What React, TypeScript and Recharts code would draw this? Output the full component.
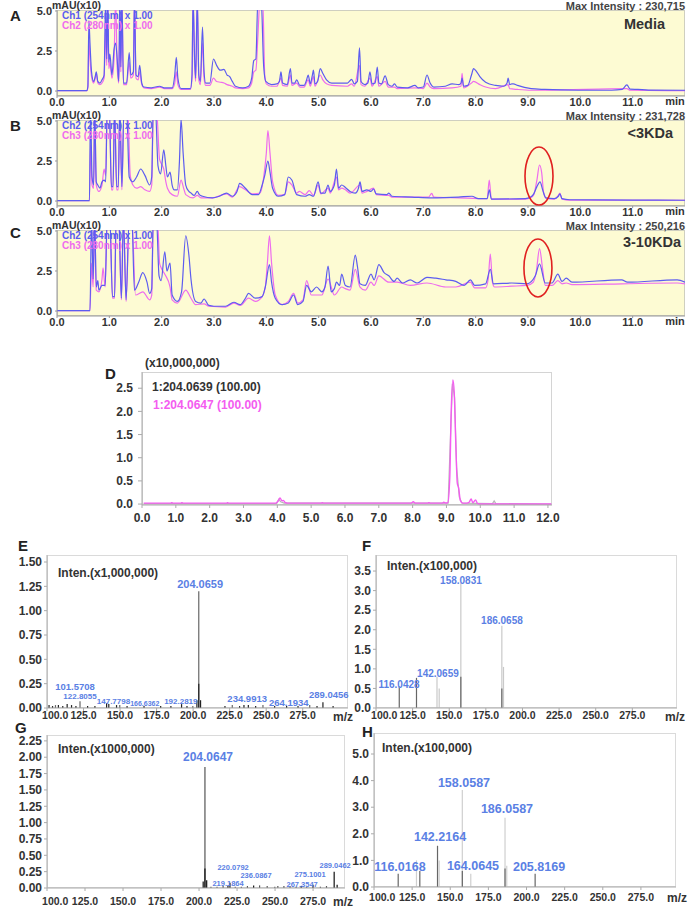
import { LineChart, Line, XAxis, YAxis, ReferenceDot, BarChart, Bar } from 'recharts';

type Pair = [number, number];
// [m/z, tall (light) line, base (dark) line]
type Peak = [number, number | null, number | null];
type PeakLabel = { text: string; mz: number; v: number; size: number };

const FONT = '"Liberation Sans", Arial, Helvetica, sans-serif';
const YELLOW = '#fdfbd3';
const BLUE = '#5c5cf0';
const PINK = '#ee6cee';
const LABEL_BLUE = '#5a80e4';
const D_PINK = '#f45cf0';

// ---- chromatograms A-C: [time (min), mAU x10] ----
const minuteTicks = [0, 1, 2, 3, 4, 5, 6, 7, 8, 9, 10, 11];
const mauTicks = [0, 2.5, 5];

const mediaCh1: Pair[] = [
  [0, 0.02], [0.57, 0.02], [0.59, 0.3], [0.61, 4.4], [0.63, 3.0], [0.66, 1.2], [0.7, 0.6], [0.73, 0.9], [0.75, 1.2],
  [0.78, 0.6], [0.82, 0.5], [0.86, 0.7], [0.9, 1.0], [0.93, 5.8], [0.95, 2.0], [0.97, 5.8], [0.99, 1.8], [1.01, 2.3],
  [1.05, 1.0], [1.09, 2.6], [1.12, 3.0], [1.15, 2.0], [1.18, 0.6], [1.2, 5.8], [1.22, 1.5], [1.24, 5.8], [1.27, 0.5],
  [1.33, 0.5], [1.38, 2.4], [1.41, 1.0], [1.46, 1.2], [1.48, 5.8], [1.51, 1.0], [1.55, 0.9], [1.58, 1.6], [1.62, 0.5],
  [1.66, 0.25], [1.8, 0.2], [1.96, 0.3], [2.05, 0.2], [2.2, 0.2], [2.25, 1.0], [2.28, 2.1], [2.31, 0.8], [2.37, 0.15],
  [2.55, 0.15], [2.58, 1.0], [2.6, 5.8], [2.63, 2.0], [2.65, 0.8], [2.68, 5.8], [2.71, 1.0], [2.74, 0.6], [2.78, 4.0],
  [2.81, 1.2], [2.84, 0.5], [2.92, 0.5], [2.99, 2.0], [3.05, 1.6], [3.12, 1.3], [3.19, 1.35], [3.25, 1.0], [3.3, 0.9],
  [3.35, 0.6], [3.41, 0.3], [3.55, 0.2], [3.66, 0.3], [3.72, 0.8], [3.76, 1.9], [3.8, 2.0], [3.84, 5.8], [3.9, 5.8],
  [3.95, 1.5], [3.99, 0.6], [4.1, 0.4], [4.2, 0.45], [4.25, 0.6], [4.28, 1.2], [4.31, 0.5], [4.4, 0.4], [4.46, 1.4],
  [4.49, 0.5], [4.54, 0.5], [4.58, 0.7], [4.64, 0.35], [4.72, 0.35], [4.77, 0.7], [4.8, 1.0], [4.84, 0.45], [4.88, 1.0],
  [4.9, 1.3], [4.93, 0.45], [4.98, 0.6], [5.03, 1.4], [5.08, 1.1], [5.15, 0.7], [5.25, 0.5], [5.45, 0.5], [5.55, 0.5],
  [5.63, 0.73], [5.68, 0.45], [5.74, 0.6], [5.78, 2.7], [5.81, 0.6], [5.88, 0.4], [5.94, 0.5], [5.98, 1.2], [6.02, 0.45],
  [6.08, 0.5], [6.12, 1.5], [6.15, 0.5], [6.2, 0.45], [6.27, 0.95], [6.33, 0.4], [6.4, 0.3], [6.45, 0.45], [6.5, 0.25],
  [6.7, 0.2], [6.84, 0.35], [6.9, 0.2], [7.0, 0.25], [7.07, 1.0], [7.13, 0.5], [7.2, 0.25], [7.42, 0.3], [7.55, 0.45],
  [7.68, 0.4], [7.72, 0.5], [7.74, 0.8], [7.77, 0.3], [7.85, 0.35], [7.92, 1.0], [7.96, 1.4], [8.02, 1.2], [8.08, 0.9],
  [8.19, 0.55], [8.38, 0.35], [8.54, 0.3], [8.6, 0.5], [8.62, 0.8], [8.65, 0.4], [8.69, 0.45], [8.72, 0.45], [8.8, 0.35],
  [9.06, 0.15], [9.32, 0.1], [9.96, 0.05], [10.6, 0.05], [10.8, 0.1], [10.89, 0.38], [10.95, 0.12], [11.1, 0.1],
  [11.3, 0.06], [12.0, 0.05],
];
const mediaCh2: Pair[] = [
  [0, 0.02], [0.57, 0.02], [0.59, 0.2], [0.61, 3.2], [0.63, 2.0], [0.66, 0.9], [0.7, 0.5], [0.73, 0.8], [0.75, 1.1],
  [0.78, 0.5], [0.82, 0.4], [0.86, 0.5], [0.9, 0.8], [0.93, 4.0], [0.95, 1.6], [0.97, 5.8], [0.99, 1.4], [1.01, 1.8],
  [1.05, 0.8], [1.09, 2.0], [1.12, 5.8], [1.15, 1.5], [1.18, 0.5], [1.2, 4.0], [1.22, 1.2], [1.24, 5.8], [1.27, 0.4],
  [1.33, 0.4], [1.38, 1.8], [1.41, 0.8], [1.46, 1.0], [1.48, 5.8], [1.51, 0.8], [1.55, 0.7], [1.58, 1.2], [1.62, 0.4],
  [1.66, 0.2], [1.8, 0.15], [1.96, 0.25], [2.05, 0.15], [2.2, 0.15], [2.25, 0.5], [2.28, 1.2], [2.31, 0.4], [2.37, 0.1],
  [2.55, 0.1], [2.58, 0.8], [2.6, 5.8], [2.63, 1.5], [2.65, 0.6], [2.68, 5.8], [2.71, 0.7], [2.74, 0.4], [2.78, 3.0],
  [2.81, 0.8], [2.84, 0.35], [2.92, 0.35], [2.99, 0.8], [3.05, 0.6], [3.12, 0.55], [3.19, 0.5], [3.25, 0.4], [3.35, 0.3],
  [3.41, 0.2], [3.55, 0.15], [3.66, 0.2], [3.72, 0.5], [3.76, 1.2], [3.8, 1.3], [3.84, 3.5], [3.88, 5.8], [3.93, 5.8],
  [3.97, 1.0], [4.0, 0.45], [4.1, 0.3], [4.2, 0.3], [4.28, 0.8], [4.31, 0.35], [4.4, 0.3], [4.46, 1.0], [4.49, 0.35],
  [4.58, 0.5], [4.64, 0.25], [4.72, 0.25], [4.8, 0.7], [4.84, 0.3], [4.9, 0.9], [4.93, 0.3], [5.03, 1.0], [5.08, 0.7],
  [5.15, 0.45], [5.25, 0.35], [5.55, 0.3], [5.63, 0.45], [5.68, 0.3], [5.78, 1.6], [5.81, 0.4], [5.88, 0.3], [5.98, 0.8],
  [6.02, 0.3], [6.12, 0.9], [6.15, 0.3], [6.27, 0.6], [6.33, 0.25], [6.45, 0.25], [6.5, 0.15], [6.84, 0.2], [7.0, 0.15],
  [7.07, 0.5], [7.13, 0.25], [7.2, 0.15], [7.55, 0.2], [7.72, 0.3], [7.74, 1.1], [7.77, 0.2], [7.92, 0.5], [7.96, 0.6],
  [8.08, 0.4], [8.19, 0.25], [8.38, 0.15], [8.62, 0.4], [8.65, 0.15], [8.8, 0.1], [9.06, 0.05], [9.32, 0.05],
  [10.89, 0.15], [10.95, 0.05], [12.0, 0.02],
];

const lt3Ch2: Pair[] = [
  [0, 0.02], [0.62, 0.02], [0.64, 5.8], [0.67, 1.5], [0.7, 1.0], [0.72, 5.8], [0.75, 1.2], [0.78, 1.0], [0.82, 0.8],
  [0.86, 1.2], [0.9, 1.3], [0.93, 1.2], [0.96, 5.8], [1.0, 5.8], [1.04, 0.9], [1.07, 0.9], [1.1, 5.8], [1.14, 0.9],
  [1.17, 0.9], [1.2, 5.8], [1.24, 0.9], [1.28, 5.8], [1.33, 5.8], [1.38, 1.5], [1.45, 1.2], [1.52, 1.5], [1.6, 2.0],
  [1.68, 1.6], [1.77, 1.0], [1.81, 1.5], [1.84, 5.8], [1.88, 5.8], [1.93, 2.2], [1.98, 1.7], [2.04, 3.2], [2.08, 2.2],
  [2.11, 1.5], [2.16, 1.8], [2.2, 1.0], [2.24, 0.7], [2.3, 0.7], [2.34, 2.5], [2.37, 5.1], [2.41, 3.0], [2.46, 1.0],
  [2.52, 0.6], [2.56, 0.5], [2.62, 0.35], [2.68, 0.6], [2.72, 0.4], [2.78, 0.3], [2.97, 0.2], [3.1, 0.3], [3.24, 0.5],
  [3.35, 0.3], [3.44, 0.6], [3.49, 1.1], [3.6, 0.8], [3.73, 0.4], [3.85, 0.4], [3.92, 1.0], [3.97, 1.6], [4.03, 2.5],
  [4.07, 1.8], [4.12, 0.8], [4.23, 0.3], [4.35, 0.4], [4.42, 1.5], [4.49, 1.3], [4.58, 0.4], [4.74, 0.3], [4.82, 0.4],
  [4.9, 0.3], [4.99, 1.2], [5.04, 0.5], [5.12, 0.5], [5.18, 1.0], [5.22, 0.6], [5.3, 1.0], [5.34, 2.0], [5.38, 0.8],
  [5.44, 1.0], [5.51, 0.85], [5.6, 0.6], [5.7, 0.5], [5.76, 0.8], [5.79, 1.2], [5.83, 0.6], [5.92, 0.7], [6.0, 0.6],
  [6.05, 0.75], [6.1, 0.45], [6.3, 0.4], [6.34, 0.5], [6.4, 0.3], [6.78, 0.25], [7.16, 0.2], [7.67, 0.25], [7.93, 0.3],
  [8.05, 0.15], [8.22, 0.15], [8.26, 0.7], [8.3, 0.12], [8.95, 0.15], [9.05, 0.25], [9.11, 0.45], [9.17, 0.9],
  [9.23, 1.2], [9.28, 0.7], [9.34, 0.2], [9.5, 0.15], [9.58, 0.3], [9.61, 0.45], [9.65, 0.15], [9.8, 0.08], [11, 0.06],
  [12, 0.05],
];
const lt3Ch3: Pair[] = [
  [0, 0.02], [0.62, 0.02], [0.64, 3.5], [0.67, 1.0], [0.7, 0.8], [0.72, 5.8], [0.75, 1.0], [0.8, 0.6], [0.86, 1.0],
  [0.9, 2.0], [0.93, 1.6], [0.96, 5.8], [1.0, 5.8], [1.04, 0.7], [1.07, 0.7], [1.1, 5.8], [1.14, 0.7], [1.17, 0.7],
  [1.2, 5.8], [1.24, 0.7], [1.28, 5.8], [1.35, 5.8], [1.4, 1.6], [1.45, 1.0], [1.52, 0.8], [1.6, 0.9], [1.68, 0.7],
  [1.77, 0.6], [1.81, 1.0], [1.84, 5.8], [1.9, 5.8], [1.96, 2.6], [2.0, 2.3], [2.04, 2.0], [2.08, 1.2], [2.11, 0.8],
  [2.2, 0.4], [2.3, 0.3], [2.37, 1.3], [2.42, 0.8], [2.46, 0.4], [2.6, 0.2], [2.68, 0.35], [2.75, 0.2], [2.97, 0.2],
  [3.24, 0.45], [3.35, 0.25], [3.49, 0.9], [3.6, 0.7], [3.73, 0.45], [3.88, 0.5], [3.95, 1.5], [4.0, 3.0], [4.03, 4.4],
  [4.07, 3.0], [4.12, 1.2], [4.23, 0.35], [4.35, 0.4], [4.42, 1.2], [4.49, 1.0], [4.58, 0.5], [4.63, 0.6], [4.74, 0.4],
  [4.82, 0.65], [4.9, 0.35], [4.99, 1.0], [5.04, 0.45], [5.18, 0.8], [5.22, 0.5], [5.34, 1.5], [5.38, 0.7], [5.44, 0.8],
  [5.51, 0.7], [5.6, 0.5], [5.79, 1.0], [5.83, 0.5], [5.92, 0.6], [6.05, 0.8], [6.1, 0.4], [6.34, 0.35], [6.4, 0.25],
  [7.1, 0.25], [7.16, 0.48], [7.2, 0.25], [7.67, 0.2], [8.22, 0.15], [8.26, 1.3], [8.3, 0.12], [8.95, 0.12], [9.05, 0.2],
  [9.11, 0.4], [9.17, 1.3], [9.22, 2.25], [9.26, 1.8], [9.3, 0.5], [9.36, 0.15], [9.5, 0.12], [9.58, 0.35], [9.61, 0.5],
  [9.65, 0.12], [9.8, 0.06], [12, 0.05],
];

const kdaCh2: Pair[] = [
  [0, 0.02], [0.63, 0.02], [0.66, 5.8], [0.69, 2.0], [0.72, 5.8], [0.75, 1.5], [0.78, 1.9], [0.8, 1.3], [0.86, 1.6],
  [0.92, 1.6], [0.96, 5.8], [1.01, 5.8], [1.06, 0.9], [1.1, 0.9], [1.13, 5.8], [1.18, 5.8], [1.23, 0.8], [1.27, 5.8],
  [1.32, 0.7], [1.38, 5.8], [1.43, 5.8], [1.48, 1.3], [1.56, 1.8], [1.64, 2.4], [1.72, 1.8], [1.77, 1.1], [1.81, 1.4],
  [1.84, 5.8], [1.9, 5.8], [1.95, 2.2], [1.99, 1.9], [2.06, 3.7], [2.1, 2.5], [2.16, 3.0], [2.2, 1.0], [2.3, 0.6],
  [2.38, 1.2], [2.46, 4.7], [2.52, 3.5], [2.56, 2.0], [2.65, 0.6], [2.75, 0.5], [2.81, 0.75], [2.9, 0.35], [3.0, 0.3],
  [3.22, 0.3], [3.38, 0.55], [3.5, 0.4], [3.6, 0.8], [3.66, 1.1], [3.79, 0.8], [3.92, 0.9], [3.98, 1.5], [4.06, 2.9],
  [4.1, 1.8], [4.17, 0.8], [4.3, 0.4], [4.42, 0.5], [4.52, 1.0], [4.6, 0.4], [4.7, 0.6], [4.77, 1.6], [4.86, 1.2],
  [4.96, 1.5], [5.06, 1.2], [5.12, 1.5], [5.18, 2.8], [5.24, 1.2], [5.3, 1.4], [5.34, 1.8], [5.4, 1.6], [5.44, 2.3],
  [5.51, 1.6], [5.6, 1.5], [5.7, 3.5], [5.74, 2.8], [5.79, 1.7], [5.89, 1.6], [6.0, 2.3], [6.06, 1.95], [6.15, 2.9],
  [6.25, 2.4], [6.34, 2.2], [6.44, 1.85], [6.5, 2.05], [6.6, 1.75], [6.75, 1.95], [6.88, 1.75], [7.07, 2.1],
  [7.24, 2.05], [7.43, 1.95], [7.62, 1.85], [7.78, 1.6], [7.9, 1.95], [7.98, 1.6], [8.19, 1.7], [8.28, 2.6], [8.34, 1.7],
  [8.69, 1.75], [8.98, 1.7], [9.14, 2.2], [9.22, 2.95], [9.33, 1.75], [9.46, 1.75], [9.57, 2.3], [9.65, 1.85],
  [9.73, 2.05], [9.84, 1.8], [10.79, 1.95], [10.9, 1.8], [11.85, 1.95], [12, 1.8],
];
const kdaCh3: Pair[] = [
  [0, 0.02], [0.63, 0.02], [0.66, 3.0], [0.69, 1.5], [0.72, 5.8], [0.75, 1.3], [0.8, 1.2], [0.86, 2.0], [0.88, 2.7],
  [0.92, 1.5], [0.96, 5.8], [1.01, 5.8], [1.06, 0.8], [1.1, 0.8], [1.13, 5.8], [1.18, 5.8], [1.23, 0.7], [1.27, 5.8],
  [1.32, 0.6], [1.38, 5.8], [1.43, 5.8], [1.5, 1.0], [1.64, 1.2], [1.77, 0.7], [1.81, 1.0], [1.84, 5.8], [1.92, 5.8],
  [1.96, 3.0], [1.99, 2.7], [2.06, 2.3], [2.16, 1.5], [2.2, 0.7], [2.3, 0.5], [2.46, 1.3], [2.56, 0.8], [2.65, 0.4],
  [2.81, 0.45], [2.9, 0.3], [3.22, 0.25], [3.38, 0.5], [3.5, 0.35], [3.66, 0.8], [3.79, 0.6], [3.92, 0.9], [3.98, 1.5],
  [4.02, 3.0], [4.06, 4.7], [4.1, 3.0], [4.17, 1.0], [4.3, 0.4], [4.42, 0.6], [4.52, 1.1], [4.6, 0.5], [4.7, 0.7],
  [4.77, 1.9], [4.86, 1.0], [4.96, 1.0], [5.06, 1.0], [5.18, 2.0], [5.3, 1.0], [5.44, 1.5], [5.51, 1.4], [5.6, 1.3],
  [5.7, 2.6], [5.79, 1.5], [5.89, 1.3], [6.0, 1.8], [6.06, 1.6], [6.15, 2.2], [6.34, 1.8], [6.5, 1.8], [6.75, 1.6],
  [7.07, 1.75], [7.43, 1.5], [7.62, 1.5], [7.9, 1.8], [7.98, 1.45], [8.19, 1.45], [8.24, 2.0], [8.28, 3.55], [8.32, 1.8],
  [8.36, 1.5], [8.69, 1.55], [8.98, 1.6], [9.1, 1.8], [9.16, 2.5], [9.22, 3.9], [9.28, 2.6], [9.33, 1.6], [9.46, 1.6],
  [9.57, 1.9], [9.65, 1.7], [9.73, 1.75], [9.84, 1.65], [10.79, 1.7], [11.85, 1.75], [12, 1.7],
];

// ---- D: extracted ion chromatograms (x10,000,000) ----
const xicTimeTicks = [0, 1, 2, 3, 4, 5, 6, 7, 8, 9, 10, 11, 12];
const xicTicks = [0, 0.5, 1, 1.5, 2, 2.5];
const xic0639: Pair[] = [
  [0.05, 0.01], [3.98, 0.01], [4.04, 0.1], [4.1, 0.05], [4.2, 0.02], [9.05, 0.02], [9.12, 1.5], [9.18, 2.6],
  [9.24, 2.3], [9.3, 0.8], [9.38, 0.15], [9.46, 0.02], [10.36, 0.01], [10.41, 0.07], [10.46, 0.01], [12.1, 0.0],
];
const xic0647: Pair[] = [
  [0.05, 0.02], [0.85, 0.02], [0.88, 0.03], [0.92, 0.02], [1.15, 0.02], [1.18, 0.03], [1.22, 0.02], [2.5, 0.02],
  [2.53, 0.03], [2.56, 0.02], [3.95, 0.02], [4.02, 0.06], [4.08, 0.13], [4.14, 0.07], [4.18, 0.08], [4.24, 0.03],
  [4.3, 0.02], [5.3, 0.02], [5.33, 0.03], [5.36, 0.02], [7.95, 0.02], [8.02, 0.05], [8.08, 0.02], [8.45, 0.02],
  [8.48, 0.03], [8.52, 0.02], [8.88, 0.02], [8.92, 0.04], [8.98, 0.02], [9.04, 0.03], [9.1, 0.6], [9.14, 2.0],
  [9.19, 2.68], [9.23, 2.4], [9.28, 1.2], [9.32, 0.45], [9.36, 0.35], [9.41, 0.08], [9.48, 0.02], [9.6, 0.02],
  [9.67, 0.04], [9.73, 0.11], [9.78, 0.03], [9.86, 0.09], [9.92, 0.01], [10.0, 0.0], [12.1, 0.0],
];

// ---- E-H: MS spectra ----
const mzTicks = [100, 125, 150, 175, 200, 225, 250, 275];

const specE: Peak[] = [
  [101.6, null, 0.03], [104, null, 0.02], [106, 0.03, null], [108, null, 0.03], [111, null, 0.02], [114, null, 0.04],
  [117, null, 0.03], [120, null, 0.02], [122.8, 0.07, null], [128, null, 0.02], [133, null, 0.02], [141, null, 0.05],
  [142.5, null, 0.04], [147.8, null, 0.03], [150, 0.03, null], [155, null, 0.02], [166.6, null, 0.02], [178, null, 0.02],
  [185, null, 0.02], [192.3, null, 0.04], [196, null, 0.02], [200, 0.02, null], [202.8, null, 0.08],
  [204.07, 1.2, 0.25], [205.3, null, 0.08], [222, null, 0.02], [227, 0.03, null], [232, null, 0.02], [235, null, 0.03],
  [238, null, 0.03], [243, null, 0.02], [248, 0.03, null], [256, null, 0.02], [264.2, null, 0.02], [272, null, 0.02],
  [280, 0.03, null], [285, null, 0.02], [289.05, null, 0.06], [296, null, 0.02],
];
const labelsE: PeakLabel[] = [
  { text: '204.0659', mz: 204.8, v: 1.27, size: 11 },
  { text: '101.5708', mz: 119.2, v: 0.216, size: 9.5 },
  { text: '122.8055', mz: 122.6, v: 0.123, size: 8 },
  { text: '147.7798', mz: 145.5, v: 0.065, size: 8 },
  { text: '166.6362', mz: 166.9, v: 0.041, size: 7 },
  { text: '192.2819', mz: 191.6, v: 0.065, size: 8 },
  { text: '234.9913', mz: 237, v: 0.092, size: 9.5 },
  { text: '264.1934', mz: 265.5, v: 0.058, size: 9.5 },
  { text: '289.0456', mz: 292.8, v: 0.134, size: 9.5 },
];

const specF: Peak[] = [
  [116.04, null, 0.55], [127.8, null, 0.77], [141.8, 0.8, null], [143.3, 0.5, null], [158.08, 3.2, 0.8],
  [186.07, 2.1, 0.5], [187.2, 1.05, null],
];
const labelsF: PeakLabel[] = [
  { text: '158.0831', mz: 158.0, v: 3.27, size: 10 },
  { text: '186.0658', mz: 186.0, v: 2.24, size: 10 },
  { text: '142.0659', mz: 142.3, v: 0.89, size: 10 },
  { text: '116.0428', mz: 115.7, v: 0.59, size: 10 },
];

const specG: Peak[] = [
  [202.9, null, 0.1], [204.06, 1.85, 0.3], [205.2, null, 0.12], [208, 0.02, null], [212, 0.02, null],
  [216, 0.03, null], [219.19, null, 0.04], [220.5, null, 0.08], [224, 0.02, null], [228, 0.02, null],
  [232, 0.03, null], [236.09, null, 0.04], [240, 0.04, null], [245, 0.03, null], [250, 0.02, null], [252, 0.03, null],
  [256, 0.03, null], [260, 0.03, null], [264, 0.02, null], [267.35, null, 0.03], [271, 0.02, null],
  [275.1, null, 0.05], [280, 0.02, null], [284, 0.03, null], [289.05, null, 0.25], [291, null, 0.05],
];
const labelsG: PeakLabel[] = [
  { text: '204.0647', mz: 205.9, v: 2.0, size: 12 },
  { text: '220.0792', mz: 222.4, v: 0.32, size: 7.5 },
  { text: '236.0867', mz: 237.5, v: 0.2, size: 7.5 },
  { text: '219.1864', mz: 219.1, v: 0.077, size: 7.5 },
  { text: '267.3547', mz: 267.8, v: 0.061, size: 7.5 },
  { text: '275.1001', mz: 273, v: 0.214, size: 7.5 },
  { text: '289.0462', mz: 289.5, v: 0.35, size: 7.5 },
];

const specH: Peak[] = [
  [116.02, null, 0.5], [128, 1.0, null], [130.2, null, 0.6], [141.8, null, 1.55], [142.9, 1.0, null],
  [158.06, 3.65, 0.6], [163.6, 0.5, null], [186.06, 2.6, 0.7], [187.2, 0.8, null], [205.8, null, 0.5],
];
const labelsH: PeakLabel[] = [
  { text: '158.0587', mz: 159, v: 3.91, size: 12.5 },
  { text: '186.0587', mz: 187.2, v: 2.93, size: 12.5 },
  { text: '142.2164', mz: 143.3, v: 1.88, size: 12.5 },
  { text: '116.0168', mz: 117, v: 0.75, size: 12.5 },
  { text: '164.0645', mz: 164.9, v: 0.79, size: 12.5 },
  { text: '205.8169', mz: 208.2, v: 0.75, size: 12.5 },
];

const toPts = (a: Pair[]) => a.map(([t, v]) => ({ t, v }));
const tickFont = (size: number) => ({ fill: '#333', fontSize: size, fontWeight: 700, fontFamily: FONT });

// the first m/z label sits right of its tick, clear of the y labels, as in the original software
function MzTick(props: any) {
  const { x, y, payload } = props;
  const shift = payload.value === mzTicks[0] ? 8.2 : 0;
  return (
    <text x={x + shift} y={y} dy="0.71em" textAnchor="middle" {...tickFont(10.5)}>
      {Number(payload.value).toFixed(1)}
    </text>
  );
}

function Txt({ x, y, children, size = 11, color = '#333', anchor = 'start' }: any) {
  const tx = anchor === 'middle' ? '-50%' : anchor === 'end' ? '-100%' : '0';
  return (
    <div
      style={{
        position: 'absolute', left: x, top: y, transform: `translate(${tx}, -50%)`, fontSize: size,
        fontWeight: 700, color, fontFamily: FONT, whiteSpace: 'nowrap', lineHeight: 1,
      }}
    >
      {children}
    </div>
  );
}

interface ChromProps {
  top: number; letter: string; letterY: number; title: string; titleRight: number; titleY: number;
  maxIntensity: string; names: string[]; blue: Pair[]; pink: Pair[]; circle?: Pair;
}

function Chromatogram(p: ChromProps) {
  return (
    <div style={{ position: 'absolute', left: 0, top: p.top, width: 691, height: 110 }}>
      <div style={{ position: 'absolute', left: 57, top: 10, width: 628, height: 86, background: YELLOW, border: '1px solid #cfcfc0', boxSizing: 'border-box' }} />
      <div style={{ position: 'absolute', left: 0, top: 0 }}>
        <LineChart width={691} height={110} margin={{ top: 10, right: 6, bottom: 0, left: 0 }}>
          <XAxis dataKey="t" type="number" domain={[0, 12]} ticks={minuteTicks} interval={0} allowDataOverflow height={14}
            tickFormatter={(v: number) => v.toFixed(1)} tick={tickFont(11)} tickSize={2} tickMargin={0} stroke="#999" />
          <YAxis type="number" domain={[-0.31, 5.06]} ticks={mauTicks} interval={0} allowDataOverflow width={57}
            tickFormatter={(v: number) => v.toFixed(1)} tick={tickFont(11)} tickSize={2} tickMargin={3} stroke="#999" />
          <Line data={toPts(p.pink)} dataKey="v" type="monotone" stroke={PINK} strokeWidth={1.2} dot={false} isAnimationActive={false} />
          <Line data={toPts(p.blue)} dataKey="v" type="monotone" stroke={BLUE} strokeWidth={1.2} dot={false} isAnimationActive={false} />
          {p.circle && (
            <ReferenceDot x={p.circle[0]} y={p.circle[1]} r={0} ifOverflow="visible"
              shape={(s: any) => <ellipse cx={s.cx} cy={s.cy} rx={14} ry={29} fill="none" stroke="#e02020" strokeWidth={1.6} />} />
          )}
        </LineChart>
      </div>
      <Txt x={10} y={p.letterY} size={15} color="#222">{p.letter}</Txt>
      <Txt x={52} y={5} size={10.5}>mAU(x10)</Txt>
      <Txt x={685} y={5.5} anchor="end" color="#444">Max Intensity : {p.maxIntensity}</Txt>
      <Txt x={62} y={15.5} size={10} color={BLUE}>{p.names[0]}</Txt>
      <Txt x={62} y={25.5} size={10} color={PINK}>{p.names[1]}</Txt>
      <Txt x={691 - p.titleRight} y={p.titleY} anchor="end" size={14.5} color="#333">{p.title}</Txt>
      <Txt x={675} y={101} anchor="middle">min</Txt>
    </div>
  );
}

interface SpecProps {
  left: number; top: number; width: number; height: number; marginRight: number; yWidth: number;
  xDomain: number[]; yDomain: number[]; yTicks: number[]; yDigits: number; xTickMargin: number;
  peaks: Peak[]; labels: PeakLabel[]; tallColor: string; baseColor: string;
}

function Spectrum(p: SpecProps) {
  const rows = p.peaks.map(([mz, tall, base]) => ({ mz, tall, base }));
  const plotW = p.width - p.yWidth - p.marginRight;
  const plotH = p.height - 10 - 22;
  return (
    <div style={{ position: 'absolute', left: p.left, top: p.top, width: p.width, height: p.height }}>
      <div style={{ position: 'absolute', left: p.yWidth, top: 10, width: plotW, height: plotH, border: '1px solid #dadada', boxSizing: 'border-box' }} />
      <div style={{ position: 'absolute', left: 0, top: 0 }}>
        <BarChart width={p.width} height={p.height} data={rows} margin={{ top: 10, right: p.marginRight, bottom: 0, left: 0 }} barGap={-1.2}>
          <XAxis dataKey="mz" type="number" domain={p.xDomain} ticks={mzTicks} interval={0} allowDataOverflow height={22}
            tick={<MzTick />} tickSize={3} tickMargin={p.xTickMargin} stroke="#aaa" />
          <YAxis type="number" domain={p.yDomain} ticks={p.yTicks} interval={0} allowDataOverflow width={p.yWidth}
            tickFormatter={(v: number) => v.toFixed(p.yDigits)} tick={tickFont(12)} tickSize={3} tickMargin={2} stroke="#aaa" />
          <Bar dataKey="tall" fill={p.tallColor} barSize={1.2} isAnimationActive={false} />
          <Bar dataKey="base" fill={p.baseColor} barSize={1.2} isAnimationActive={false} />
          {p.labels.map((l) => (
            <ReferenceDot key={l.text} x={l.mz} y={l.v} r={0} ifOverflow="visible"
              shape={(s: any) => (
                <text x={s.cx} y={s.cy} dy="0.35em" textAnchor="middle" fontSize={l.size} fontWeight={700}
                  fontFamily={FONT} fill={LABEL_BLUE}>{l.text}</text>
              )} />
          ))}
        </BarChart>
      </div>
    </div>
  );
}

export default function App() {
  return (
    <div style={{ position: 'absolute', left: 0, top: 0, width: 691, height: 910, background: '#fff', overflow: 'hidden', fontFamily: FONT }}>
      <Chromatogram top={0} letter="A" letterY={15} title="Media" titleRight={26} titleY={24} maxIntensity="230,715"
        names={['Ch1 (254nm) x 1.00', 'Ch2 (280nm) x 1.00']} blue={mediaCh1} pink={mediaCh2} />
      <Chromatogram top={110} letter="B" letterY={15} title="<3KDa" titleRight={18} titleY={23} maxIntensity="231,728"
        names={['Ch2 (254nm) x 1.00', 'Ch3 (280nm) x 1.00']} blue={lt3Ch2} pink={lt3Ch3} circle={[9.21, 1.56]} />
      <Chromatogram top={220} letter="C" letterY={12} title="3-10KDa" titleRight={10} titleY={22} maxIntensity="250,216"
        names={['Ch2 (254nm) x 1.00', 'Ch3 (280nm) x 1.00']} blue={kdaCh2} pink={kdaCh3} circle={[9.19, 2.69]} />

      {/* D */}
      <div style={{ position: 'absolute', left: 142, top: 372, width: 410, height: 133, border: '1px solid #d4d4d4', boxSizing: 'border-box' }} />
      <div style={{ position: 'absolute', left: 100, top: 360 }}>
        <LineChart width={460} height={175} margin={{ top: 12, right: 8, bottom: 0, left: 0 }}>
          <XAxis dataKey="t" type="number" domain={[0, 12.12]} ticks={xicTimeTicks} interval={0} allowDataOverflow height={30}
            tickFormatter={(v: number) => v.toFixed(1)} tick={tickFont(12)} tickSize={3} tickMargin={5} stroke="#aaa" />
          <YAxis type="number" domain={[-0.02, 2.85]} ticks={xicTicks} interval={0} allowDataOverflow width={42}
            tickFormatter={(v: number) => v.toFixed(1)} tick={tickFont(12)} tickSize={4} tickMargin={5} stroke="#aaa" />
          <Line data={toPts(xic0639)} dataKey="v" stroke="#b8b8b8" strokeWidth={1.2} dot={false} isAnimationActive={false} />
          <Line data={toPts(xic0647)} dataKey="v" type="monotone" stroke={D_PINK} strokeWidth={1.4} dot={false} isAnimationActive={false} />
        </LineChart>
      </div>
      <Txt x={105} y={373} size={15} color="#222">D</Txt>
      <Txt x={145} y={363} size={12}>(x10,000,000)</Txt>
      <Txt x={152} y={387} size={12} color="#333">1:204.0639 (100.00)</Txt>
      <Txt x={153} y={405} size={12} color={D_PINK}>1:204.0647 (100.00)</Txt>

      {/* E-H */}
      <Spectrum left={0} top={545} width={360} height={185} marginRight={12} yWidth={47} xDomain={[100, 306]}
        yDomain={[0, 1.572]} yTicks={[0, 0.25, 0.5, 0.75, 1, 1.25, 1.5]} yDigits={2} xTickMargin={1}
        peaks={specE} labels={labelsE} tallColor="#666" baseColor="#222" />
      <Spectrum left={345} top={545} width={346} height={185} marginRight={14} yWidth={31} xDomain={[100, 305.5]}
        yDomain={[0, 3.91]} yTicks={[0, 0.5, 1, 1.5, 2, 2.5, 3, 3.5]} yDigits={1} xTickMargin={1}
        peaks={specF} labels={labelsF} tallColor="#c9c9c9" baseColor="#666" />
      <Spectrum left={0} top={725} width={360} height={185} marginRight={15} yWidth={47} xDomain={[100, 296]}
        yDomain={[0, 2.34]} yTicks={[0, 0.25, 0.5, 0.75, 1, 1.25, 1.5, 1.75, 2, 2.25]} yDigits={2} xTickMargin={7}
        peaks={specG} labels={labelsG} tallColor="#555" baseColor="#111" />
      <Spectrum left={345} top={723} width={346} height={186} marginRight={15} yWidth={29} xDomain={[100, 298]}
        yDomain={[0, 5.79]} yTicks={[0, 1, 2, 3, 4, 5]} yDigits={1} xTickMargin={4}
        peaks={specH} labels={labelsH} tallColor="#cfcfcf" baseColor="#666" />

      <Txt x={18} y={545} size={15} color="#222">E</Txt>
      <Txt x={362} y={545} size={15} color="#222">F</Txt>
      <Txt x={15} y={727} size={15} color="#222">G</Txt>
      <Txt x={362} y={731} size={15} color="#222">H</Txt>
      <Txt x={58} y={573} size={12}>Inten.(x1,000,000)</Txt>
      <Txt x={387} y={566} size={12}>Inten.(x100,000)</Txt>
      <Txt x={58} y={749} size={12}>Inten.(x1000,000)</Txt>
      <Txt x={382} y={748} size={12}>Inten.(x100,000)</Txt>
      <Txt x={343} y={716.5} size={12} anchor="middle">m/z</Txt>
      <Txt x={675} y={716.5} size={12} anchor="middle">m/z</Txt>
      <Txt x={343} y={902} size={12} anchor="middle">m/z</Txt>
      <Txt x={677} y={898} size={12} anchor="middle">m/z</Txt>
    </div>
  );
}
